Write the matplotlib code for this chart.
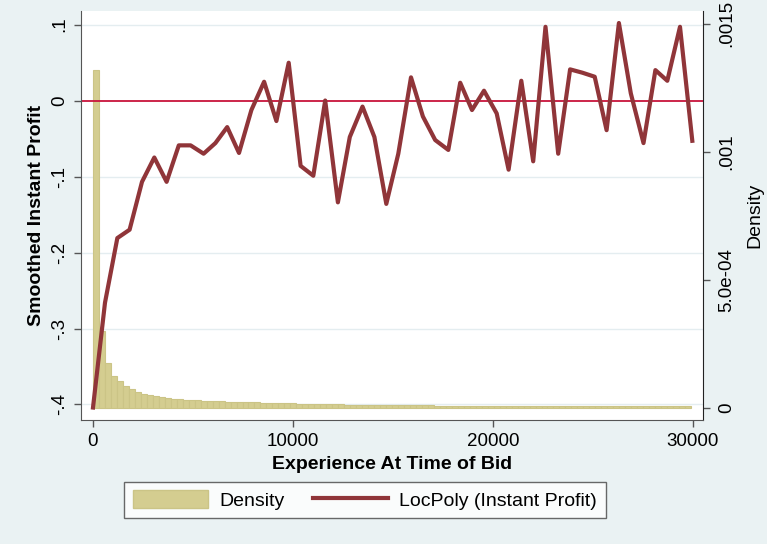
import numpy as np
import matplotlib
matplotlib.use("Agg")
import matplotlib.pyplot as plt
from matplotlib.patches import Patch
from matplotlib.lines import Line2D

plt.rcParams['font.family'] = ['Liberation Sans', 'DejaVu Sans']

# ---- data ----
exp_x = [0, 600, 1217, 1830, 2450, 3065, 3680, 4290, 4880, 5530,
         6120, 6710, 7300, 7920, 8555, 9170, 9785, 10380, 11015, 11610,
         12245, 12840, 13475, 14070, 14665, 15265, 15900, 16495, 17110, 17765,
         18360, 18950, 19550, 20185, 20780, 21415, 22010, 22625, 23260, 23855,
         24470, 25085, 25680, 26295, 26890, 27525, 28120, 28715, 29350, 29965]
profit = [-0.404, -0.266, -0.181, -0.170, -0.107, -0.075, -0.107, -0.059, -0.059, -0.070,
          -0.056, -0.035, -0.069, -0.0125, 0.0247, -0.027, 0.0497, -0.086, -0.099, 0.0,
          -0.134, -0.048, -0.008, -0.048, -0.136, -0.070, 0.0305, -0.021, -0.052, -0.065,
          0.0234, -0.0125, 0.0129, -0.017, -0.091, 0.026, -0.080, 0.097, -0.070, 0.041,
          0.0366, 0.0313, -0.039, 0.102, 0.0095, -0.056, 0.040, 0.026, 0.097, -0.053]

bin_width = 299
density = [0.001318, 0.000302, 0.000175, 0.000125, 0.000103, 0.000086, 0.000073, 0.0000625, 0.0000547, 0.0000508,
           0.0000469, 0.000043, 0.000039, 0.0000363, 0.000034, 0.0000313, 0.000030, 0.000029, 0.000028, 0.000027,
           0.000026, 0.0000252, 0.0000245, 0.0000238, 0.000023, 0.0000224, 0.0000218, 0.000021, 0.000020, 0.0000195,
           0.000019, 0.0000185, 0.000018, 0.0000173, 0.0000168, 0.000016, 0.000015, 0.0000147, 0.0000143, 0.000014,
           0.0000136, 0.0000133, 0.000013, 0.0000127, 0.0000124, 0.000012, 0.0000115, 0.0000112, 0.000011, 0.0000107,
           0.0000104, 0.0000101, 0.0000099, 0.0000097, 0.0000095, 0.0000093, 0.0000092, 0.0000091, 0.000009, 0.0000089,
           0.0000088, 0.0000087, 0.0000086, 0.0000085, 0.0000085, 0.0000084, 0.0000083, 0.0000083, 0.0000082, 0.0000082,
           0.0000081, 0.000008, 0.000008, 0.0000079, 0.0000078, 0.0000077, 0.0000076, 0.0000076, 0.0000075, 0.0000074,
           0.0000074, 0.0000073, 0.0000072, 0.0000072, 0.0000071, 0.000007, 0.000007, 0.0000069, 0.0000068, 0.0000068,
           0.0000067, 0.0000066, 0.0000066, 0.0000065, 0.0000064, 0.0000064, 0.0000063, 0.0000062, 0.0000062, 0.000006]

x_ticks = [0, 10000, 20000, 30000]
x_ticklabels = ['0', '10000', '20000', '30000']
y_ticks = [0.1, 0, -0.1, -0.2, -0.3, -0.4]
y_ticklabels = ['.1', '0', '-.1', '-.2', '-.3', '-.4']
d_ticks = [0, 0.0005, 0.001, 0.0015]
d_ticklabels = ['0', '5.0e-04', '.001', '.0015']

# ---- style ----
BG = '#eaf2f3'
LINE = '#903539'
BAR = '#d4cd90'
BAR_EDGE = '#cbc486'
ZERO = '#c8143c'
GRID = '#e4edf0'
AX = '#555555'
TICK_FS = 13.5
TITLE_FS = 14

fig = plt.figure(figsize=(7.67, 5.44), dpi=100, facecolor=BG)
ax = fig.add_axes([81/767, 1-420/544, (703-81)/767, (420-11)/544])
ax2 = ax.twinx()

# right axis: histogram
bin_left = np.arange(len(density)) * bin_width
ax2.bar(bin_left, density, width=bin_width, align='edge', color=BAR,
        edgecolor=BAR_EDGE, linewidth=0.8, zorder=1)
ax2.set_ylim(-0.0000475, 0.00155)
ax2.set_yticks(d_ticks)
ax2.set_yticklabels(d_ticklabels, rotation=90, va='center', fontsize=TICK_FS)
ax2.set_ylabel('Density', fontsize=TITLE_FS, rotation=90, labelpad=8)

# left axis drawn above the histogram
ax.set_zorder(ax2.get_zorder() + 1)
ax.patch.set_visible(False)
ax2.patch.set_visible(True)
ax2.patch.set_facecolor('white')

ax.set_xlim(-600, 30500)
ax.set_ylim(-0.4204, 0.1178)
ax.set_yticks(y_ticks)
ax.set_yticklabels(y_ticklabels, rotation=90, va='center', fontsize=TICK_FS)
ax.set_xticks(x_ticks)
ax.set_xticklabels(x_ticklabels, fontsize=TICK_FS)
for v in y_ticks:
    if v != 0:
        ax2.axhline(np.interp(v, [-0.4204, 0.1178], [-0.0000475, 0.00155]),
                    color=GRID, linewidth=1.0, zorder=0.5)

ax.axhline(0, color=ZERO, linewidth=1.3, zorder=2)
ax.plot(exp_x, profit, color=LINE, linewidth=3, zorder=3, solid_joinstyle='round')

ax.set_xlabel('Experience At Time of Bid', fontsize=TITLE_FS, fontweight='bold', labelpad=5)
ax.set_ylabel('Smoothed Instant Profit', fontsize=TITLE_FS, fontweight='bold', labelpad=5)

for a in (ax, ax2):
    a.spines['top'].set_visible(False)
    a.tick_params(direction='out', length=5, width=1, color=AX, pad=4)
ax2.tick_params(axis='y', pad=6)
ax.spines['left'].set_color(AX)
ax.spines['bottom'].set_color(AX)
ax.spines['right'].set_visible(False)
ax2.spines['left'].set_visible(False)
ax2.spines['bottom'].set_visible(False)
ax2.spines['right'].set_color('#222222')

handles = [Patch(facecolor=BAR, edgecolor=BAR_EDGE, label='Density'),
           Line2D([], [], color=LINE, linewidth=3, label='LocPoly (Instant Profit)')]
leg = fig.legend(handles=handles, loc='center left', ncol=2,
                 bbox_to_anchor=(124/767, 1-500/544), frameon=True, fancybox=False,
                 edgecolor='#444444', fontsize=14, handlelength=3.85, handleheight=1.0,
                 columnspacing=1.45, borderpad=0.45, handletextpad=0.6, borderaxespad=0)
leg.get_frame().set_linewidth(1.0)

fig.savefig('out.png', dpi=100, facecolor=BG)
